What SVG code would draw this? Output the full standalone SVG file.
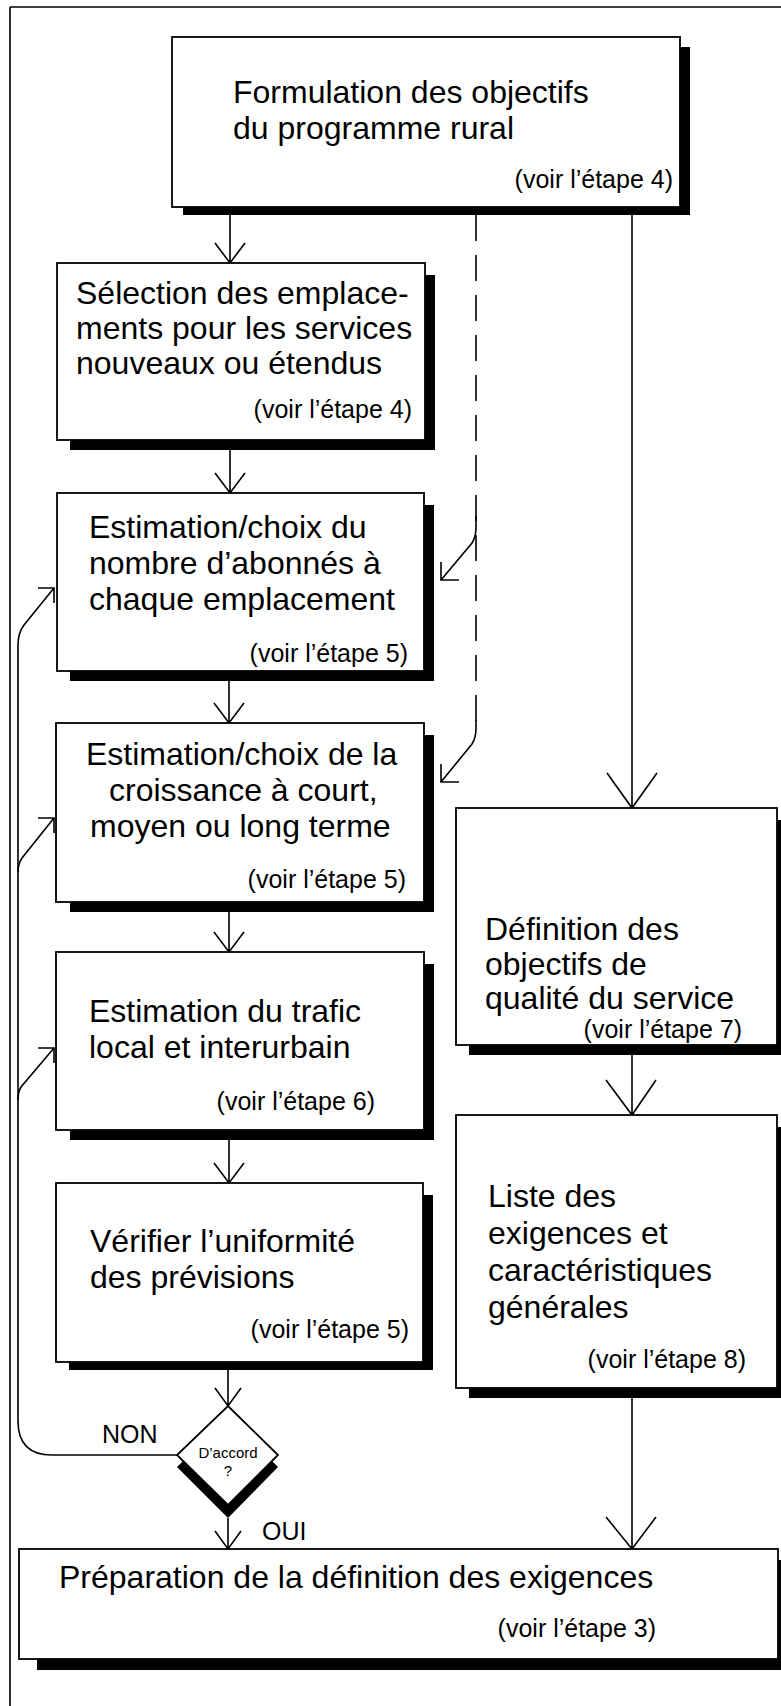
<svg xmlns="http://www.w3.org/2000/svg" width="781" height="1706" viewBox="0 0 781 1706">
  <style>
    .box { fill: #fff; stroke: #000; stroke-width: 1.8; }
    .shadow { fill: #000; }
    .t { font-family: "Liberation Sans", Arial, Helvetica, sans-serif; font-size: 32px; fill: #000; }
    .ref { font-family: "Liberation Sans", Arial, Helvetica, sans-serif; font-size: 25px; fill: #000; text-anchor: end; }
    .lbl { font-family: "Liberation Sans", Arial, Helvetica, sans-serif; font-size: 25px; fill: #000; }
    .small { font-family: "Liberation Sans", Arial, Helvetica, sans-serif; font-size: 15px; fill: #000; text-anchor: middle; }
    .ln { fill: none; stroke: #000; stroke-width: 1.6; }
    .dash { fill: none; stroke: #000; stroke-width: 1.6; stroke-dasharray: 26 14; }
  </style>

  <!-- page frame: top and left rules -->
  <g id="frame">
    <path class="ln" d="M10,7 H781 M10,7 V1706"/>
  </g>

  <!-- connectors -->
  <g id="connectors">
    <!-- main column -->
    <path class="ln" d="M230,215 V263 M215,243 L230,263 L245,243"/>
    <path class="ln" d="M230,450 V493 M215,473 L230,493 L245,473"/>
    <path class="ln" d="M229,681 V723 M214,703 L229,723 L244,703"/>
    <path class="ln" d="M229,912 V952 M214,932 L229,952 L244,932"/>
    <path class="ln" d="M229,1140 V1183 M214,1163 L229,1183 L244,1163"/>
    <path class="ln" d="M228,1370 V1406 M215,1388 L228,1406 L241,1388"/>
    <path class="ln" d="M228,1518 V1549 M215,1531 L228,1549 L241,1531"/>
    <!-- right column -->
    <path class="ln" d="M632,215 V808 M607,773 L632,808 L657,773"/>
    <path class="ln" d="M632,1055 V1115 M606,1080 L632,1115 L656,1080"/>
    <path class="ln" d="M632,1398 V1549 M606,1517 L632,1549 L656,1517"/>
    <!-- dashed feed to the estimation boxes -->
    <path class="dash" d="M476,215 V726"/>
    <path class="ln" d="M476,516 V527 Q476,537 472,543 L441,580 M441,562 V580 H459"/>
    <path class="ln" d="M476,720 V728 Q476,738 472,744 L441,782 M441,764 V782 H459"/>
    <!-- NON return loop -->
    <path class="ln" d="M177,1455 H52 Q18,1455 18,1421 V645 Q18,633 24,625 L54,588 M38,588 H54 V603"/>
    <path class="ln" d="M18,872 Q18,864 22,858 L54,818 M38,818 H54 V833"/>
    <path class="ln" d="M18,1100 Q18,1092 21,1087 L54,1048 M38,1048 H54 V1063"/>
  </g>

  <g id="n1">
    <rect class="shadow" x="183" y="47" width="507" height="168"/>
    <rect class="box" x="172" y="37" width="508" height="170"/>
    <text class="t" x="233" y="103">Formulation des objectifs</text>
    <text class="t" x="233" y="139">du programme rural</text>
    <text class="ref" x="673" y="188">(voir l’étape 4)</text>
  </g>

  <g id="n2">
    <rect class="shadow" x="70" y="275" width="365" height="175"/>
    <rect class="box" x="57" y="263" width="368" height="177"/>
    <text class="t" x="76" y="304">Sélection des emplace-</text>
    <text class="t" x="76" y="339">ments pour les services</text>
    <text class="t" x="76" y="374">nouveaux ou étendus</text>
    <text class="ref" x="412" y="418">(voir l’étape 4)</text>
  </g>

  <g id="n3">
    <rect class="shadow" x="70" y="505" width="364" height="176"/>
    <rect class="box" x="57" y="493" width="367" height="178"/>
    <text class="t" x="89" y="538">Estimation/choix du</text>
    <text class="t" x="89" y="574">nombre d’abonnés à</text>
    <text class="t" x="89" y="610">chaque emplacement</text>
    <text class="ref" x="408" y="662">(voir l’étape 5)</text>
  </g>

  <g id="n4">
    <rect class="shadow" x="70" y="735" width="364" height="177"/>
    <rect class="box" x="56" y="723" width="368" height="179"/>
    <text class="t" x="86" y="765">Estimation/choix de la</text>
    <text class="t" x="109" y="801">croissance à court,</text>
    <text class="t" x="90" y="837">moyen ou long terme</text>
    <text class="ref" x="406" y="888">(voir l’étape 5)</text>
  </g>

  <g id="n5">
    <rect class="shadow" x="70" y="964" width="364" height="176"/>
    <rect class="box" x="56" y="952" width="368" height="178"/>
    <text class="t" x="89" y="1022">Estimation du trafic</text>
    <text class="t" x="89" y="1058">local et interurbain</text>
    <text class="ref" x="375" y="1110">(voir l’étape 6)</text>
  </g>

  <g id="n6">
    <rect class="shadow" x="69" y="1195" width="364" height="175"/>
    <rect class="box" x="56" y="1183" width="367" height="179"/>
    <text class="t" x="90" y="1252">Vérifier l’uniformité</text>
    <text class="t" x="90" y="1288">des prévisions</text>
    <text class="ref" x="409" y="1338">(voir l’étape 5)</text>
  </g>

  <g id="decision">
    <polygon class="shadow" points="177,1467 228,1417 278,1467 228,1518"/>
    <polygon class="box" points="228,1406 278,1455 228,1505 177,1455"/>
    <text class="small" x="228" y="1458">D’accord</text>
    <text class="small" x="228" y="1476">?</text>
    <text class="lbl" x="102" y="1443">NON</text>
    <text class="lbl" x="262" y="1540">OUI</text>
  </g>

  <g id="n7">
    <rect class="shadow" x="469" y="820" width="320" height="235"/>
    <rect class="box" x="456" y="808" width="321" height="237"/>
    <text class="t" x="485" y="940">Définition des</text>
    <text class="t" x="485" y="975">objectifs de</text>
    <text class="t" x="485" y="1009">qualité du service</text>
    <text class="ref" x="742" y="1038">(voir l’étape 7)</text>
  </g>

  <g id="n8">
    <rect class="shadow" x="469" y="1127" width="320" height="271"/>
    <rect class="box" x="456" y="1115" width="321" height="273"/>
    <text class="t" x="488" y="1207">Liste des</text>
    <text class="t" x="488" y="1244">exigences et</text>
    <text class="t" x="488" y="1281">caractéristiques</text>
    <text class="t" x="488" y="1318">générales</text>
    <text class="ref" x="746" y="1368">(voir l’étape 8)</text>
  </g>

  <g id="n9">
    <rect class="shadow" x="37" y="1560" width="752" height="110"/>
    <rect class="box" x="19" y="1549" width="759" height="110"/>
    <text class="t" x="59" y="1588">Préparation de la définition des exigences</text>
    <text class="ref" x="656" y="1637">(voir l’étape 3)</text>
  </g>
</svg>
